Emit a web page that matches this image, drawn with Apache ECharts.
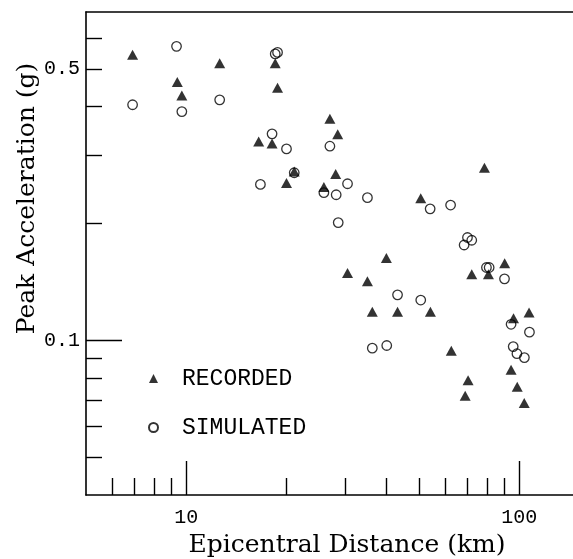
<!DOCTYPE html>
<html>
<head>
<meta charset="utf-8">
<script src="https://cdn.jsdelivr.net/npm/echarts@6/dist/echarts.min.js"></script>
<style>
html, body { margin: 0; padding: 0; background: #fff; }
#chart { width: 573px; height: 559px; }
</style>
</head>
<body>
<div id="chart"></div>
<script>
// recorded peak accelerations (triangles)
var recordedDist = [6.9, 9.4, 9.7, 12.6, 18.5, 18.8, 16.5, 18.1, 21.1, 20.0, 27.0, 28.5, 28.1, 25.9, 50.6, 78.6, 39.9,
  30.5, 35.0, 72.0, 80.8, 90.4, 36.2, 43.1, 54.1, 107, 96.1, 62.5, 94.5, 70.2, 98.6, 68.8, 103.5];
var recordedAcc = [0.543, 0.462, 0.427, 0.517, 0.517, 0.447, 0.325, 0.321, 0.272, 0.254, 0.372, 0.339, 0.268, 0.248, 0.232, 0.278, 0.163,
  0.149, 0.142, 0.148, 0.148, 0.158, 0.1185, 0.1185, 0.1185, 0.118, 0.114, 0.094, 0.084, 0.079, 0.076, 0.072, 0.069];

// simulated peak accelerations (circles)
var simulatedDist = [9.35, 6.9, 9.7, 12.6, 18.5, 18.8, 18.1, 20.0, 16.7, 21.1, 27.0, 30.5, 25.9, 28.2, 35.0, 28.6, 54.0,
  62.2, 69.9, 72.0, 68.3, 79.7, 81.2, 90.3, 43.1, 50.6, 94.5, 107.3, 36.2, 40.0, 95.9, 98.4, 103.6];
var simulatedAcc = [0.571, 0.404, 0.388, 0.416, 0.546, 0.551, 0.340, 0.311, 0.252, 0.270, 0.316, 0.253, 0.240, 0.237, 0.233, 0.201, 0.218,
  0.223, 0.184, 0.181, 0.176, 0.154, 0.154, 0.144, 0.131, 0.127, 0.110, 0.105, 0.0955, 0.097, 0.0964, 0.0924, 0.0903];

// ticks
var xMajorTicks = [10, 100];
var xMinorTicks = [6, 7, 8, 9, 20, 30, 40, 50, 60, 70, 80, 90];
var yMajorTicks = [0.1];
var yMinorTicks = [0.05, 0.06, 0.07, 0.08, 0.09, 0.2, 0.3, 0.4, 0.5, 0.6];
var yTickLabels = [0.1, 0.5];

function pairs(xs, ys) {
  var out = [];
  for (var i = 0; i < xs.length; i++) {
    out.push([xs[i], ys[i]]);
  }
  return out;
}

var chart = echarts.init(document.getElementById('chart'));

var monoFont = 'Liberation Mono';
var serifFont = 'DejaVu Serif';

chart.setOption({
  animation: false,
  grid: { left: 86, right: 0, top: 12, bottom: 64, containLabel: false, outerBoundsMode: 'none' },
  legend: {
    orient: 'vertical',
    left: 143,
    top: 362,
    itemWidth: 9,
    itemHeight: 9,
    itemGap: 26,
    selectedMode: false,
    data: ['RECORDED', 'SIMULATED'],
    textStyle: { fontFamily: monoFont, fontSize: 23, color: '#000', lineHeight: 22, padding: [0, 0, 0, 19] }
  },
  xAxis: [
    {
      type: 'log', logBase: 10, min: 5, max: 145, position: 'bottom',
      name: 'Epicentral Distance (km)', nameLocation: 'middle', nameGap: 37,
      nameTextStyle: { fontFamily: serifFont, fontSize: 25, color: '#000', padding: [0, 0, 0, 35] },
      axisLine: { show: true, lineStyle: { color: '#000', width: 1.6 } },
      axisTick: { show: true, inside: true, length: 34, customValues: xMajorTicks, lineStyle: { color: '#000', width: 1.4 } },
      axisLabel: { show: true, customValues: xMajorTicks, margin: 13, fontFamily: monoFont, fontSize: 20, color: '#000' },
      splitLine: { show: false }, minorTick: { show: false }
    },
    {
      type: 'log', logBase: 10, min: 5, max: 145, position: 'bottom',
      axisLine: { show: false },
      axisTick: { show: true, inside: true, length: 17, customValues: xMinorTicks, lineStyle: { color: '#000', width: 1.4 } },
      axisLabel: { show: false },
      splitLine: { show: false }
    },
    {
      type: 'log', logBase: 10, min: 5, max: 145, position: 'top',
      axisLine: { show: true, lineStyle: { color: '#000', width: 1.6 } },
      axisTick: { show: false },
      axisLabel: { show: false },
      splitLine: { show: false }
    }
  ],
  yAxis: [
    {
      type: 'log', logBase: 10, min: 0.04, max: 0.7, position: 'left',
      name: 'Peak Acceleration (g)', nameLocation: 'middle', nameGap: 46, nameMoveOverlap: false,
      nameTextStyle: { fontFamily: serifFont, fontSize: 25, color: '#000', padding: [0, 0, 0, 110] },
      axisLine: { show: true, lineStyle: { color: '#000', width: 1.6 } },
      axisTick: { show: true, inside: true, length: 36, customValues: yMajorTicks, lineStyle: { color: '#000', width: 1.4 } },
      axisLabel: {
        show: true, customValues: yTickLabels, margin: 6, fontFamily: monoFont, fontSize: 20, color: '#000',
        formatter: function (v) { return String(+(+v).toPrecision(3)); }
      },
      splitLine: { show: false }
    },
    {
      type: 'log', logBase: 10, min: 0.04, max: 0.7, position: 'left',
      axisLine: { show: false },
      axisTick: { show: true, inside: true, length: 16, customValues: yMinorTicks, lineStyle: { color: '#000', width: 1.4 } },
      axisLabel: { show: false },
      splitLine: { show: false }
    }
  ],
  series: [
    {
      name: 'SIMULATED',
      type: 'scatter',
      xAxisIndex: 0, yAxisIndex: 0,
      symbol: 'circle',
      symbolSize: 9.5,
      itemStyle: { color: 'rgba(255,255,255,0)', borderColor: '#000', borderWidth: 1.3 },
      emphasis: { disabled: true },
      data: pairs(simulatedDist, simulatedAcc)
    },
    {
      name: 'RECORDED',
      type: 'scatter',
      xAxisIndex: 0, yAxisIndex: 0,
      symbol: 'triangle',
      symbolSize: [11, 10],
      itemStyle: { color: '#000' },
      emphasis: { disabled: true },
      data: pairs(recordedDist, recordedAcc)
    }
  ]
});
</script>
</body>
</html>
